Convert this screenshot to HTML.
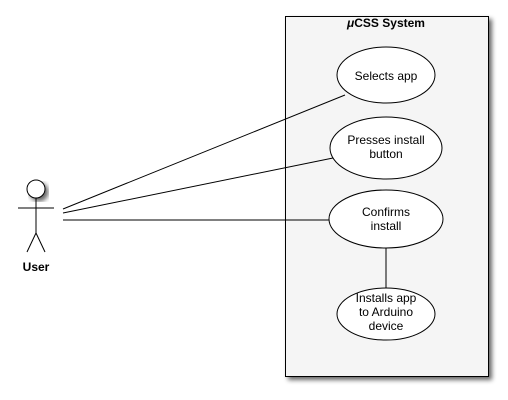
<!DOCTYPE html>
<html><head><style>body{margin:0;background:#fff}svg{display:block}</style></head>
<body>
<svg width="508" height="400" xmlns="http://www.w3.org/2000/svg" font-family="Liberation Sans, sans-serif" font-size="12">
<defs><filter id="s" x="-10%" y="-10%" width="130%" height="130%"><feGaussianBlur in="SourceAlpha" stdDeviation="2.5"/><feOffset dx="3" dy="3"/><feComponentTransfer><feFuncA type="linear" slope="0.6"/></feComponentTransfer><feMerge><feMergeNode/><feMergeNode in="SourceGraphic"/></feMerge></filter></defs>
<rect x="285.5" y="16.5" width="203" height="360" fill="#f5f5f5" stroke="#000" filter="url(#s)"/>
<text x="386" y="27" text-anchor="middle" font-weight="bold" font-size="12"><tspan font-style="italic">μ</tspan>CSS System</text>
<g stroke="#000" fill="none">
<line x1="63" y1="209" x2="345" y2="95"/>
<line x1="63" y1="213" x2="333" y2="158"/>
<line x1="63" y1="220" x2="330" y2="220"/>
<line x1="386" y1="248" x2="386" y2="288"/>
</g>
<g stroke="#000" fill="#fff">
<ellipse cx="386" cy="75" rx="49" ry="28"/>
<ellipse cx="386" cy="148" rx="56" ry="31"/>
<ellipse cx="386" cy="219" rx="57" ry="29"/>
<ellipse cx="386" cy="314" rx="49" ry="26"/>
</g>
<g text-anchor="middle">
<text x="386" y="80">Selects app</text>
<text x="386" y="144">Presses install</text><text x="386" y="158">button</text>
<text x="386" y="216">Confirms</text><text x="386" y="230">install</text>
<text x="386" y="302">Installs app</text><text x="386" y="316">to Arduino</text><text x="386" y="330">device</text>
</g>
<g stroke="#000" fill="none">
<circle cx="36" cy="189" r="9" fill="#fff" filter="url(#s)"/>
<line x1="36" y1="198" x2="36" y2="233"/>
<line x1="18" y1="208" x2="54" y2="208"/>
<line x1="36" y1="233" x2="27" y2="252"/>
<line x1="36" y1="233" x2="45" y2="252"/>
</g>
<text x="36" y="271" text-anchor="middle" font-weight="bold">User</text>
</svg>
</body></html>
